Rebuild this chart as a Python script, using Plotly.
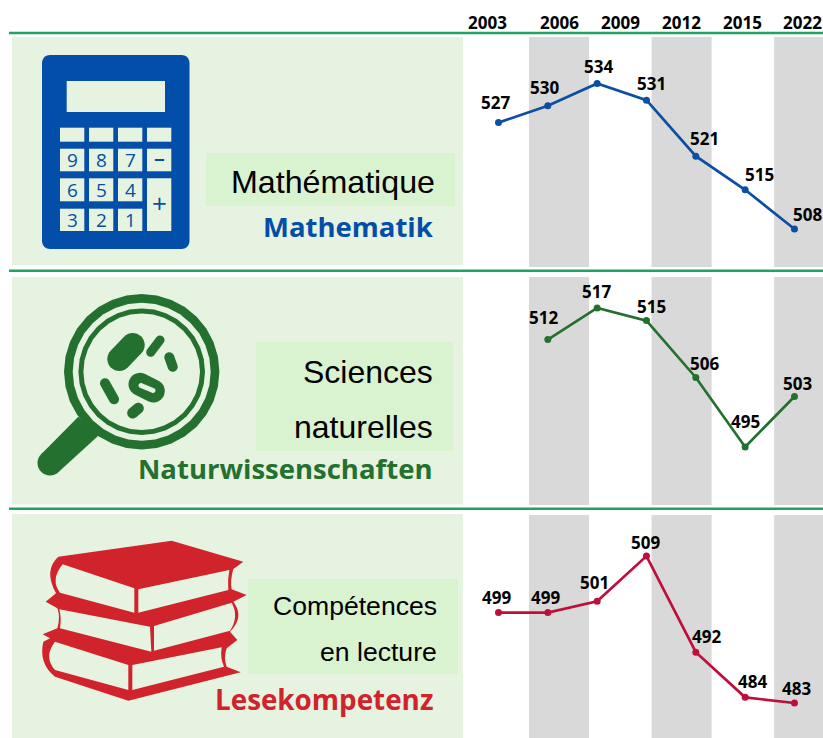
import math
import plotly.graph_objects as go

W, H = 823, 738

# ---- data ----
header_years = ["2003", "2006", "2009", "2012", "2015", "2022"]
point_slots = [0, 1, 2, 3, 4, 5, 6]
math_values = [527, 530, 534, 531, 521, 515, 508]
science_values = [None, 512, 517, 515, 506, 495, 503]
reading_values = [499, 499, 501, 509, 492, 484, 483]

# ---- styling / placement, kept apart from the values ----
BLUE, GREEN, RED = "#034EA8", "#23702F", "#D1232B"
LINE_BLUE, LINE_GREEN, LINE_RED = "#0B4EA2", "#23702F", "#BE0F3C"
PANEL, BOX, BAND, RULE = "#E6F3E0", "#D9F2D0", "#D9D9D9", "#1FA463"
header_pos = [-0.16, 1, 2, 3, 4, 4.98]
band_pos = [1, 3, 5]
math_shift = [(-3, 20), (-3, 18), (1, 17), (5, 17), (9, 18), (14, 15), (13, 15)]
science_shift = [None, (-4, 22), (-1, 16), (5, 14), (9, 14), (0, 26), (3, 13)]
reading_shift = [(-2, 15), (-2, 15), (-3, 19), (-1, 14), (11, 16), (7, 16), (2, 15)]


def px(x):
    return x / W


def py(y):
    return 1 - y / H


def y_range(bottom, top, ref_value, ref_y, scale):
    return [ref_value - (bottom - ref_y) / scale, ref_value + (ref_y - top) / scale]


shapes = []


def rect(x0, y0, x1, y1, color):
    shapes.append(dict(type="rect", xref="paper", yref="paper", x0=px(x0), x1=px(x1),
                       y0=py(y1), y1=py(y0), fillcolor=color, line_width=0, layer="below"))


def path(d, color):
    shapes.append(dict(type="path", xref="paper", yref="paper", path=d, fillcolor=color,
                       line_width=0, layer="below"))


def poly(points, color):
    d = "M" + " L".join(f"{px(x):.5f},{py(y):.5f}" for x, y in points) + " Z"
    path(d, color)


def capsule(x0, y0, x1, y1, r, color):
    a = math.atan2(y1 - y0, x1 - x0)
    pts = []
    for i in range(17):
        t = a + math.pi / 2 + math.pi * i / 16
        pts.append((x0 + r * math.cos(t), y0 + r * math.sin(t)))
    for i in range(17):
        t = a - math.pi / 2 + math.pi * i / 16
        pts.append((x1 + r * math.cos(t), y1 + r * math.sin(t)))
    poly(pts, color)


def disc(cx, cy, r, color):
    capsule(cx, cy, cx + 0.001, cy, r, color)


def rounded(x0, y0, x1, y1, r, color):
    pts = []
    for cx, cy, start in [(x1 - r, y0 + r, -90), (x1 - r, y1 - r, 0), (x0 + r, y1 - r, 90), (x0 + r, y0 + r, 180)]:
        for i in range(9):
            t = math.radians(start + 90 * i / 8)
            pts.append((cx + r * math.cos(t), cy + r * math.sin(t)))
    poly(pts, color)


def zoompath(d, top, color):
    """d holds (x, y) pairs of a 3x crop whose top edge is `top`."""
    out = []
    for token in d.split():
        if "," in token:
            x, y = token.split(",")
            out.append(f"{px(float(x) / 3):.5f},{py(top + float(y) / 3):.5f}")
        else:
            out.append(token)
    path(" ".join(out), color)


# panels
rect(12, 37, 463, 265, PANEL)
rect(12, 277, 463, 504.5, PANEL)
rect(12, 514, 463, 738, PANEL)
rect(206, 153, 455, 206, BOX)
rect(256, 342, 453, 451, BOX)
rect(248, 579, 458, 674, BOX)

# grey column bands, placed on the header axis
for top, bottom in [(37, 267), (277, 505), (515, 738)]:
    for c in band_pos:
        shapes.append(dict(type="rect", xref="x2", yref="paper", x0=c - 0.49, x1=c + 0.49,
                           y0=py(bottom), y1=py(top), fillcolor=BAND, line_width=0, layer="below"))

# rules
for y in (33, 270.7, 508.7):
    shapes.append(dict(type="line", xref="paper", yref="paper", x0=px(9), x1=1, y0=py(y), y1=py(y),
                       line=dict(color=RULE, width=2.4), layer="below"))

# calculator icon
rounded(42, 55, 189.5, 249, 8, BLUE)
rect(66.7, 81, 165, 112, PANEL)
cols = [(60, 84.3), (89, 113.3), (118, 142.3), (147, 171.3)]
rows = [(127.7, 141.7), (148.7, 171.3), (178.3, 201.3), (208.7, 231)]
for c0, c1 in cols:
    rect(c0, rows[0][0], c1, rows[0][1], PANEL)
    rect(c0, rows[1][0], c1, rows[1][1], PANEL)
for c0, c1 in cols[:3]:
    rect(c0, rows[2][0], c1, rows[2][1], PANEL)
    rect(c0, rows[3][0], c1, rows[3][1], PANEL)
rect(cols[3][0], rows[2][0], cols[3][1], rows[3][1], PANEL)

# magnifier icon
disc(141.7, 371.7, 77.7, GREEN)
disc(141.7, 371.7, 69, PANEL)
disc(141.7, 371.7, 63.3, GREEN)
disc(141.7, 371.7, 58.3, PANEL)
poly([(78.3, 416.7), (98.3, 435.7), (58.8, 471.8), (41.2, 454.2)], GREEN)
disc(50, 463, 12.5, GREEN)
capsule(132.7, 345, 119.3, 359, 12, GREEN)
capsule(160, 340, 150.7, 352.3, 4.5, GREEN)
capsule(169.3, 357.3, 172.7, 366.7, 5, GREEN)
capsule(105, 383.3, 114, 399.3, 5, GREEN)
capsule(138.3, 408.3, 132.7, 413, 5.5, GREEN)
capsule(140, 384.3, 153.3, 391, 11.5, GREEN)
capsule(141, 385.5, 153, 390.5, 2.5, PANEL)

# books icon
zoompath("M 175,170 L 515,122 L 730,185 L 700,207 Q 690,240 695,268 L 740,285 L 700,305 "
         "Q 735,350 690,395 L 712,420 L 680,445 Q 670,475 680,500 L 722,517 L 385,602 L 165,530 "
         "Q 115,490 130,425 L 150,415 L 128,403 L 172,385 Q 182,350 172,325 L 137,305 L 168,280 "
         "Q 130,210 175,170 Z", 500, RED)
zoompath("M 188,193 L 403,265 L 403,338 L 180,278 Q 150,240 188,193 Z", 500, PANEL)
zoompath("M 415,268 L 688,210 Q 682,240 685,270 L 415,338 Z", 500, PANEL)
zoompath("M 178,328 L 450,380 L 454,455 L 180,385 Q 185,355 178,328 Z", 500, PANEL)
zoompath("M 462,378 L 695,308 Q 718,350 690,392 L 462,452 Z", 500, PANEL)
zoompath("M 165,425 L 385,495 L 385,570 L 165,510 Q 130,470 165,425 Z", 500, PANEL)
zoompath("M 397,495 L 665,442 Q 660,475 672,500 L 397,570 Z", 500, PANEL)

annotations = []


def label(x, y, text, size, color, family="Liberation Sans", bold=False, anchor="right"):
    annotations.append(dict(xref="paper", yref="paper", x=px(x), y=py(y), text=f"<b>{text}</b>" if bold else text,
                            showarrow=False, xanchor=anchor, yanchor="middle",
                            font=dict(family=family, size=size, color=color), borderpad=0, borderwidth=0))


label(435, 182, "Mathématique", 32.2, "#000000")
label(434, 227, "Mathematik", 27.5, BLUE, "Open Sans", True)
label(433, 372, "Sciences", 32, "#000000")
label(433, 427, "naturelles", 32, "#000000")
label(432, 469, "Naturwissenschaften", 27.5, GREEN, "Open Sans", True)
label(437, 606, "Compétences", 26.6, "#000000")
label(437, 652, "en lecture", 26.6, "#000000")
label(433, 699, "Lesekompetenz", 27.8, RED, "Open Sans", True)

keys = [["9", "8", "7", "−"], ["6", "5", "4", ""], ["3", "2", "1", ""]]
for r, row in enumerate(keys):
    for c, key in enumerate(row):
        if key:
            x = (cols[c][0] + cols[c][1]) / 2
            y = (rows[r + 1][0] + rows[r + 1][1]) / 2
            label(x, y, key, 19, BLUE, "Open Sans", key == "−", "center")
label((cols[3][0] + cols[3][1]) / 2, 203, "+", 26, BLUE, "Open Sans", False, "center")

# year headers sit on the column axis that also places the grey bands
for pos, year in zip(header_pos, header_years):
    annotations.append(dict(xref="x2", yref="paper", x=pos, y=py(22), text=f"<b>{year}</b>", showarrow=False,
                            xanchor="center", yanchor="middle",
                            font=dict(family="Open Sans", size=17, color="#000000")))

fig = go.Figure()
panels = [
    ("y", math_values, LINE_BLUE, math_shift),
    ("y2", science_values, LINE_GREEN, science_shift),
    ("y3", reading_values, LINE_RED, reading_shift),
]
for axis, values, color, shifts in panels:
    fig.add_trace(go.Scatter(x=point_slots, y=values, xaxis="x", yaxis=axis, mode="lines+markers",
                             line=dict(color=color, width=2.7), marker=dict(color=color, size=7),
                             hoverinfo="skip", showlegend=False, cliponaxis=False))
    for slot, value, shift in zip(point_slots, values, shifts):
        if value is None:
            continue
        annotations.append(dict(xref="x", yref=axis, x=slot, y=value, text=f"<b>{value}</b>", showarrow=False,
                                xshift=shift[0], yshift=shift[1], xanchor="center", yanchor="middle",
                                font=dict(family="Open Sans", size=17, color="#000000")))

# invisible trace that keeps the column axis on the page
fig.add_trace(go.Scatter(x=header_pos, y=[None] * len(header_pos), xaxis="x2", yaxis="y", mode="none",
                         hoverinfo="skip", showlegend=False))

hidden = dict(visible=False, fixedrange=True)
fig.update_layout(
    width=W, height=H, autosize=False, margin=dict(l=0, r=0, t=0, b=0),
    paper_bgcolor="white", plot_bgcolor="rgba(0,0,0,0)", showlegend=False,
    shapes=shapes, annotations=annotations,
    xaxis=dict(domain=[0, 1], range=[-498.5 / 49.33, (823 - 498.5) / 49.33], anchor="y", **hidden),
    xaxis2=dict(domain=[0, 1], range=[1 - 559 / 61.3, 1 + (823 - 559) / 61.3], overlaying="x", anchor="y", **hidden),
    yaxis=dict(domain=[py(267), py(37)], range=y_range(267, 37, 508, 229, 5.6), anchor="x", **hidden),
    yaxis2=dict(domain=[py(505), py(277)], range=y_range(505, 277, 495, 447, 6.32), anchor="x", **hidden),
    yaxis3=dict(domain=[py(738), py(515)], range=y_range(738, 515, 483, 703, 5.65), anchor="x", **hidden),
)

fig.write_html("out.html", config=dict(displayModeBar=False), post_script="document.body.style.margin='0';")
